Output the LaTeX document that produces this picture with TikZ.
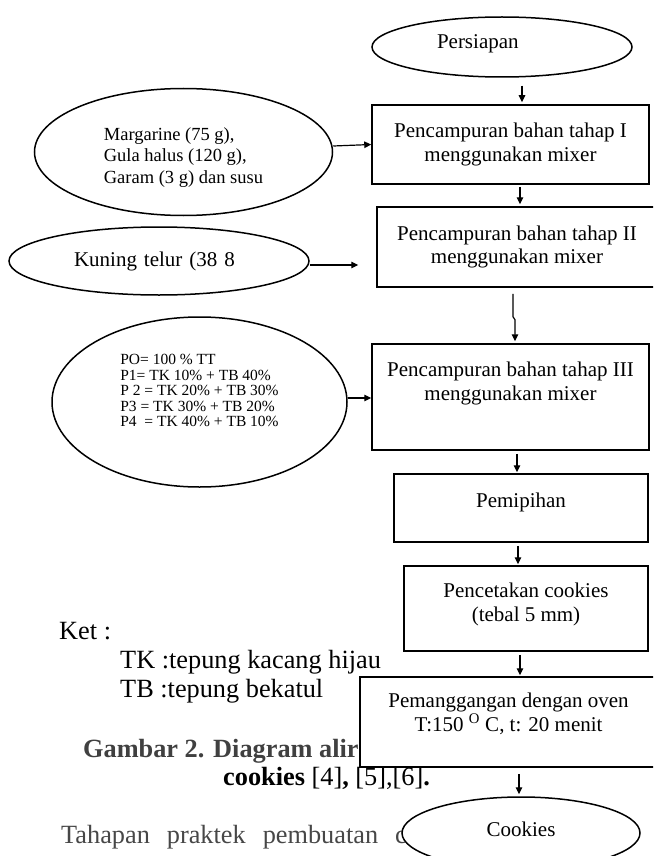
\documentclass[tikz,border=0pt]{standalone}
\usepackage{fontspec}
\setmainfont{Liberation Serif}
\usetikzlibrary{shapes.geometric, arrows.meta}

\begin{document}
\begin{tikzpicture}[x=1pt, y=-1pt,
    >={Triangle[length=7pt, width=6.5pt]},
    stage/.style={draw, line width=1.5pt, fill=white, align=center, inner sep=0pt,
        font=\fontsize{21}{23.5}\selectfont},
    input/.style={ellipse, draw, line width=1.5pt, fill=white, inner sep=0pt,
        font=\fontsize{21}{23.5}\selectfont},
    flow/.style={->, line width=1.2pt},
    pagetext/.style={anchor=base west, inner sep=0pt, font=\fontsize{26.3}{30}\selectfont}]

    % Page
    \useasboundingbox (0, 0) rectangle (653, 856);
    \clip (0, 0) rectangle (653, 856);

    % Page text behind the chart
    \node[pagetext] (ket) at (59, 639) {Ket :};
    \node[pagetext] (tk) at (120, 668) {TK :tepung kacang hijau};
    \node[pagetext] (tb) at (120, 697) {TB :tepung bekatul};
    \node[pagetext, black!75] (caption) at (83, 757) {\textbf{Gambar 2. Diagram alir}};
    \node[pagetext] (captionref) at (223, 785) {\textbf{cookies} [4]\textbf{,} [5],[6]\textbf{.}};
    \node[pagetext, black!72] (body) at (61, 843) {\spaceskip=17pt Tahapan praktek pembuatan c};

    % Main steps
    \node[input, minimum width=260pt, minimum height=60pt, text width=130pt, align=left,
        text depth=10pt] (persiapan) at (502, 47) {Persiapan};
    \node[stage, minimum width=277pt, minimum height=79pt] (tahap1) at (510.5, 144.5)
        {Pencampuran bahan tahap I\\menggunakan mixer};
    \node[stage, minimum width=280pt, minimum height=80pt] (tahap2) at (517, 247)
        {Pencampuran bahan tahap II\\menggunakan mixer};
    \node[stage, minimum width=277pt, minimum height=106pt, text depth=31.5pt] (tahap3) at (510.5, 397)
        {Pencampuran bahan tahap III\\menggunakan mixer};
    \node[stage, minimum width=254pt, minimum height=68pt, text depth=16pt] (pipih) at (521, 508) {Pemipihan};
    \node[stage, minimum width=244pt, minimum height=85pt, text depth=12.5pt] (cetak) at (526, 608.5)
        {Pencetakan cookies\\(tebal 5 mm)};
    \node[stage, minimum width=297pt, minimum height=90pt, text depth=19.5pt] (oven) at (508.5, 722)
        {Pemanggangan dengan oven\\T:150 \textsuperscript{O} C, t: 20 menit};
    \node[input, minimum width=238pt, minimum height=72pt, text depth=8pt] (cookies) at (521, 833) {Cookies};

    % Ingredients
    \node[input, minimum width=298pt, minimum height=127pt, align=left, text height=66pt,
        font=\fontsize{18.5}{21.5}\selectfont] (bahan) at (183.5, 152)
        {Margarine (75 g),\\Gula halus (120 g),\\Garam (3 g) dan susu};
    \node[input, minimum width=300pt, minimum height=68pt, text width=170pt, align=left] (telur) at (159, 261)
        {Kuning telur (38 8};
    \node[input, minimum width=295pt, minimum height=170pt, align=left, text depth=22.9pt,
        font=\fontsize{15.5}{15.6}\selectfont] (tepung) at (199.5, 402)
        {PO= 100 \% TT\\P1= TK 10\% + TB 40\%\\P 2 = TK 20\% + TB 30\%\\P3 = TK 30\% + TB 20\%\\P4~ = TK 40\% + TB 10\%};

    % Arrows
    \draw[flow] ([xshift=20pt, yshift=-8pt]persiapan.south) -- ([xshift=11.5pt, yshift=2pt]tahap1.north);
    \draw[flow] ([yshift=6pt]bahan.east) -- (tahap1.west);
    \draw[flow] ([xshift=9.5pt, yshift=-2pt]tahap1.south) -- ([xshift=3pt, yshift=2pt]tahap2.north);
    \draw[flow, shorten >=18pt] ([yshift=-4pt]telur.east) -- ([yshift=-4pt]telur.east -| tahap2.west);
    \draw[flow] ([xshift=-4pt, yshift=-6pt]tahap2.south) -- ++(0, 23) -- ++(2, 3)
        -- ([xshift=4.5pt, yshift=2pt]tahap3.north);
    \draw[flow] ([yshift=4pt]tepung.east) -- ([yshift=4pt]tepung.east -| tahap3.west);
    \draw[flow] ([xshift=6.5pt, yshift=-3pt]tahap3.south) -- ([xshift=-4pt, yshift=1pt]pipih.north);
    \draw[flow] ([xshift=-3pt, yshift=-3pt]pipih.south) -- ([xshift=-8pt, yshift=1pt]cetak.north);
    \draw[flow] ([xshift=-6pt, yshift=-3pt]cetak.south) -- ([xshift=11.5pt, yshift=1pt]oven.north);
    \draw[flow] ([xshift=10.5pt, yshift=-6pt]oven.south) -- ([xshift=-2pt, yshift=2pt]cookies.north);

\end{tikzpicture}
\end{document}
